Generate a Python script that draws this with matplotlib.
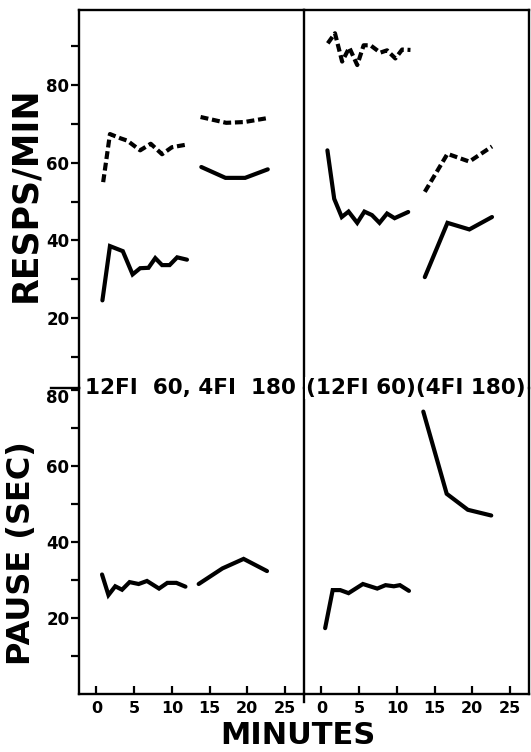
import matplotlib
matplotlib.use("Agg")
import matplotlib.pyplot as plt
from matplotlib.lines import Line2D
import matplotlib.transforms as mtransforms

# ---------------- data ----------------
# Top panels: response rate (RESPS/MIN)
tl_fi60_solid_x = [0.8, 1.8, 3.5, 4.8, 5.8, 6.9, 7.8, 8.7, 9.7, 10.7, 12.0]
tl_fi60_solid_y = [24.5, 38.5, 37.2, 31.2, 32.8, 32.9, 35.4, 33.6, 33.6, 35.6, 35.0]
tl_fi60_dash_x = [0.9, 1.8, 3.2, 4.1, 5.8, 7.2, 8.7, 10.0, 12.0]
tl_fi60_dash_y = [55.0, 67.4, 66.3, 65.7, 63.2, 64.9, 62.2, 64.0, 64.7]
tl_fi180_solid_x = [13.9, 17.1, 19.7, 22.7]
tl_fi180_solid_y = [58.9, 56.1, 56.1, 58.3]
tl_fi180_dash_x = [13.8, 17.2, 19.6, 22.9]
tl_fi180_dash_y = [71.8, 70.3, 70.5, 71.6]

tr_fi60_solid_x = [0.8, 1.7, 2.7, 3.6, 4.75, 5.7, 6.7, 7.7, 8.7, 9.7, 11.5]
tr_fi60_solid_y = [63.2, 50.7, 46.0, 47.4, 44.5, 47.4, 46.5, 44.5, 46.9, 45.7, 47.3]
tr_fi60_dash_x = [0.85, 1.8, 2.75, 3.7, 4.75, 5.6, 6.5, 7.8, 8.7, 9.8, 10.7, 11.8]
tr_fi60_dash_y = [90.8, 93.4, 86.1, 89.7, 85.2, 90.3, 90.3, 88.4, 89.0, 86.9, 89.2, 89.1]
tr_fi180_solid_x = [13.7, 16.7, 19.6, 22.6]
tr_fi180_solid_y = [30.5, 44.5, 42.8, 46.0]
tr_fi180_dash_x = [13.7, 16.7, 19.6, 22.6]
tr_fi180_dash_y = [52.5, 62.3, 60.3, 64.2]

# Bottom panels: pause (SEC)
bl_fi60_x = [0.75, 1.6, 2.5, 3.4, 4.4, 5.6, 6.7, 8.3, 9.4, 10.6, 11.8]
bl_fi60_y = [31.4, 26.0, 28.3, 27.4, 29.4, 28.9, 29.7, 27.7, 29.2, 29.2, 28.2]
bl_fi180_x = [13.55, 16.7, 19.5, 22.6]
bl_fi180_y = [28.9, 33.0, 35.5, 32.3]

br_fi60_x = [0.5, 1.5, 2.5, 3.6, 5.5, 7.4, 8.5, 9.6, 10.4, 11.6]
br_fi60_y = [17.3, 27.3, 27.3, 26.5, 28.9, 27.7, 28.6, 28.3, 28.6, 27.1]
br_fi180_x = [13.5, 16.6, 19.4, 22.5]
br_fi180_y = [74.2, 52.6, 48.4, 46.9]

x_ticks = [0, 5, 10, 15, 20, 25]
x_ticklabels = ["0", "5", "10", "15", "20", "25"]
y_major = [20, 40, 60, 80]
top_minor = [10, 30, 50, 70, 90]
bot_minor = [10, 30, 50, 70]

label_left = "12FI  60, 4FI  180"
label_right = "(12FI 60)(4FI 180)"

# ---------------- figure ----------------
W, H = 531, 752
fig = plt.figure(figsize=(W / 100, H / 100), dpi=100)
FONT = "DejaVu Sans"

xl, xm, xr = 79, 304, 529
yt, ymid, yb = 10, 388, 694

def rect(x0, x1, ytop, ybot):
    return [x0 / W, 1 - ybot / H, (x1 - x0) / W, (ybot - ytop) / H]

ax_tl = fig.add_axes(rect(xl, xm, yt, ymid))
ax_tr = fig.add_axes(rect(xm, xr, yt, ymid))
ax_bl = fig.add_axes(rect(xl, xm, ymid, yb))
ax_br = fig.add_axes(rect(xm, xr, ymid, yb))

XLIM = (-2.3, 27.5)
solid_kw = dict(color="black", lw=3.0, solid_capstyle="round", solid_joinstyle="miter")
dash_kw = dict(color="black", lw=3.0, linestyle=(0, (1.9, 0.9)), dash_capstyle="butt")

for ax in (ax_tl, ax_tr):
    ax.set_xlim(*XLIM)
    ax.set_ylim(1.9, 99.4)
for ax in (ax_bl, ax_br):
    ax.set_xlim(*XLIM)
    ax.set_ylim(0, 80.4)

ax_tl.plot(tl_fi60_solid_x, tl_fi60_solid_y, **solid_kw)
ax_tl.plot(tl_fi60_dash_x, tl_fi60_dash_y, **dash_kw)
ax_tl.plot(tl_fi180_solid_x, tl_fi180_solid_y, **solid_kw)
ax_tl.plot(tl_fi180_dash_x, tl_fi180_dash_y, **dash_kw)

ax_tr.plot(tr_fi60_solid_x, tr_fi60_solid_y, **solid_kw)
ax_tr.plot(tr_fi60_dash_x, tr_fi60_dash_y, **dash_kw)
ax_tr.plot(tr_fi180_solid_x, tr_fi180_solid_y, **solid_kw)
ax_tr.plot(tr_fi180_dash_x, tr_fi180_dash_y, **dash_kw)

ax_bl.plot(bl_fi60_x, bl_fi60_y, **solid_kw)
ax_bl.plot(bl_fi180_x, bl_fi180_y, **solid_kw)
ax_br.plot(br_fi60_x, br_fi60_y, **solid_kw)
ax_br.plot(br_fi180_x, br_fi180_y, **solid_kw)

for ax in (ax_tl, ax_tr, ax_bl, ax_br):
    ax.patch.set_visible(False)
    for s in ax.spines.values():
        s.set_linewidth(1.7)
    ax.tick_params(which="both", length=0, labelbottom=False, labelleft=False)
    ax.set_xticks([])
    ax.set_yticks([])

for ax in (ax_tl, ax_tr):
    ax.spines["bottom"].set_visible(False)
for ax in (ax_bl, ax_br):
    ax.spines["top"].set_visible(False)
ax_tr.spines["left"].set_visible(False)
ax_br.spines["left"].set_visible(False)

# y ticks on left panels
for ax, minor in ((ax_tl, top_minor), (ax_bl, bot_minor)):
    ax.set_yticks(y_major)
    ax.set_yticks(minor, minor=True)
    ax.set_yticklabels([str(v) for v in y_major])
    ax.tick_params(axis="y", which="both", direction="out", length=6, width=1.6,
                   labelleft=True, labelsize=12, pad=1)
    for t in ax.get_yticklabels():
        t.set_fontweight("bold")
        t.set_family(FONT)

# nudge the bottom panel's "80" label below the divider
lab80 = ax_bl.get_yticklabels()[-1]
lab80.set_transform(lab80.get_transform() +
                    mtransforms.ScaledTranslation(0, -6 / 100, fig.dpi_scale_trans))

# x ticks on bottom panels
for ax in (ax_bl, ax_br):
    ax.set_xticks(x_ticks)
    ax.set_xticklabels(x_ticklabels)
    ax.tick_params(axis="x", which="major", direction="in", length=6, width=1.6,
                   labelbottom=True, labelsize=11.5, pad=5)
    for t in ax.get_xticklabels():
        t.set_fontweight("bold")
        t.set_family(FONT)

# divider pieces
fig.add_artist(Line2D([51 / W, xl / W], [1 - ymid / H, 1 - ymid / H], color="black", lw=1.7))
fig.add_artist(Line2D([xm / W, xm / W], [1 - yb / H, 1 - (yb + 8) / H], color="black", lw=1.7))

# condition labels
fig.text(85 / W, 1 - ymid / H, label_left, ha="left", va="center", fontsize=15.5,
         fontweight="bold", family=FONT, zorder=10,
         bbox=dict(facecolor="white", edgecolor="none", pad=0.5))
fig.text(306 / W, 1 - ymid / H, label_right, ha="left", va="center", fontsize=15.5,
         fontweight="bold", family=FONT, zorder=10,
         bbox=dict(facecolor="white", edgecolor="none", pad=0.5))

# axis titles
fig.text(25 / W, 1 - 194 / H, "RESPS/MIN", rotation=90, ha="center", va="center",
         fontsize=25, fontweight="bold", family=FONT)
fig.text(22 / W, 1 - 553 / H, "PAUSE (SEC)", rotation=90, ha="center", va="center",
         fontsize=23, fontweight="bold", family=FONT)
fig.text(298 / W, 1 - 736 / H, "MINUTES", ha="center", va="center",
         fontsize=22, fontweight="bold", family=FONT)

fig.savefig("out.png", dpi=100, facecolor="white")
